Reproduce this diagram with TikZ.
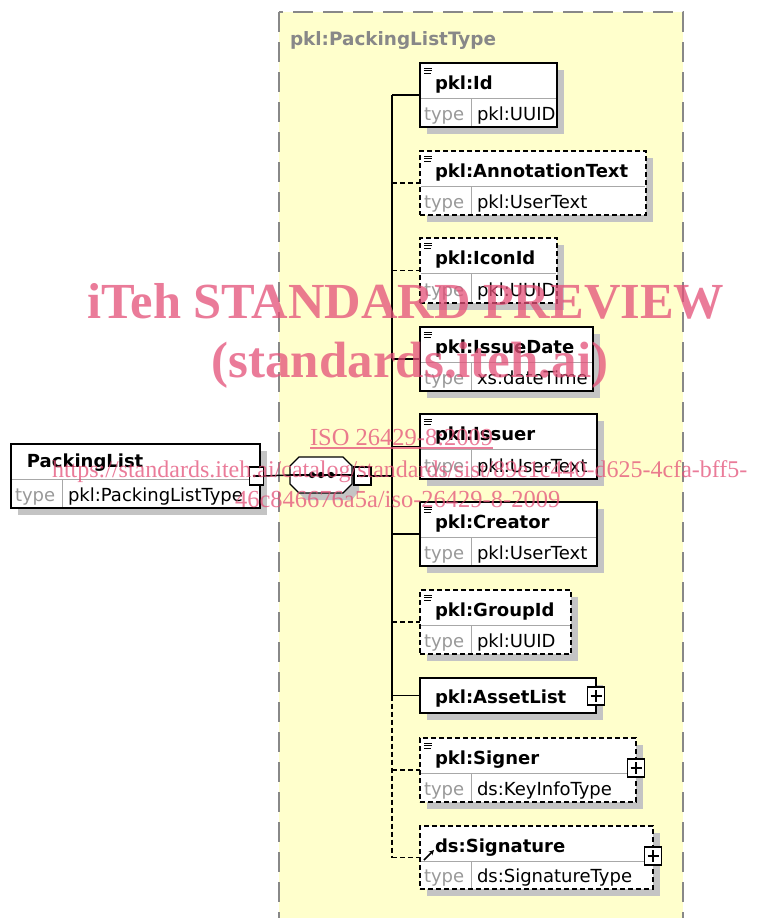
\documentclass[tikz,border=0pt]{standalone}
\usepackage{fontspec}
\setmainfont{DejaVu Sans}
\newfontfamily\wmfont{Liberation Serif}
\usetikzlibrary{arrows.meta}

\definecolor{panel}{HTML}{FFFFCC}
\definecolor{shadowgray}{HTML}{C4C4C4}
\definecolor{frame}{HTML}{888888}
\definecolor{rule}{HTML}{A8A8A8}
\definecolor{typegray}{HTML}{999999}
\definecolor{wm}{RGB}{228,80,120}

\tikzset{
  every node/.style={inner sep=0pt, outer sep=0pt},
  boxsolid/.style={rectangle, draw=black, fill=white, line width=1.5pt},
  boxdash/.style={boxsolid, dash pattern=on 5pt off 3pt},
  link/.style={line width=1.5pt},
  linkdash/.style={link, dash pattern=on 5pt off 3pt},
  namefont/.style={font=\fontsize{18}{21}\selectfont\bfseries, anchor=base west},
  valfont/.style={font=\fontsize{18}{21}\selectfont, anchor=base west},
  typefont/.style={valfont, text=typegray},
  smallsq/.style={rectangle, draw=black, fill=white, line width=1.3pt, minimum width=17pt, minimum height=18pt},
  wmtext/.style={text=wm, opacity=0.75},
}

% three short strokes in the top left corner of an element box
\newcommand\docmark[2]{%
  \draw[line width=0.9pt] ({#1+4},{#2+5}) -- ({#1+12},{#2+5});
  \draw[line width=0.9pt] ({#1+4},{#2+7.5}) -- ({#1+12},{#2+7.5});
  \draw[line width=0.9pt] ({#1+4},{#2+10}) -- ({#1+11},{#2+10});
}

% element box: style, name, x1, y1, x2, y2, title, type
\newcommand\xsdelement[8]{%
  \fill[shadowgray] ({#3+7},{#4+7}) rectangle ({#5+7},{#6+7});
  \node[#1, anchor=north west, minimum width={#5-#3}, minimum height={#6-#4}] (#2) at (#3,#4) {};
  \draw[rule, line width=1pt] ({#3+1},{#4+35}) -- ({#5-1},{#4+35});
  \draw[rule, line width=1pt] ({#3+51},{#4+35}) -- ({#3+51},{#6-1});
  \node[namefont] (#2-name) at ({#3+15},{#4+26}) {#7};
  \node[typefont] (#2-type) at ({#3+4},{#6-7}) {type};
  \node[valfont] (#2-val) at ({#3+57},{#6-7}) {#8};
}

% square with a plus sign
\newcommand\plusbox[3]{%
  \node[smallsq] (#1) at (#2,#3) {};
  \draw[line width=1.3pt] ([xshift=3pt]#1.west) -- ([xshift=-3pt]#1.east);
  \draw[line width=1.3pt] ([yshift=-3pt]#1.north) -- ([yshift=3pt]#1.south);
}

\begin{document}
\begin{tikzpicture}[x=1pt, y=-1pt]
\clip (0,0) rectangle (757,918);
\fill[white] (0,0) rectangle (757,918);

% complex type container
\filldraw[fill=panel, draw=frame, line width=1.5pt, dash pattern=on 20pt off 10pt]
  (279,12) rectangle (683,960);
\node[anchor=base west, text=frame, font=\fontsize{18.4}{21}\selectfont\bfseries] (ctype) at (290,45) {pkl:PackingListType};

% root element
\fill[shadowgray] (18,451) rectangle (267,515);
\node[boxsolid, anchor=north west, minimum width=249, minimum height=64] (root) at (11,444) {};
\draw[rule, line width=1pt] (12,479) -- (258,479);
\draw[rule, line width=1pt] (62,479) -- (62,507);
\node[namefont] (root-name) at (27,467) {PackingList};
\node[typefont] (root-type) at (15,501) {type};
\node[valfont] (root-val) at (68,501) {pkl:PackingListType};

% sequence compositor
\node[rectangle, minimum width=62pt, minimum height=36pt] (seq) at (321,475) {};
\fill[shadowgray] (306,464) -- (352,464) -- (359,473) -- (359,491) -- (352,500)
  -- (306,500) -- (297,491) -- (297,473) -- cycle;
\filldraw[fill=white, draw=black, line width=1.3pt]
  (299,457) -- (343,457) -- (352,466) -- (352,484) -- (343,493)
  -- (299,493) -- (290,484) -- (290,466) -- cycle;
\draw[link] (seq.west) -- (seq.east);
\foreach \dx in {312,321,331} \fill (\dx,475) circle (3.2pt);

\node[smallsq, minimum width=14pt] (m1) at (256.5,476) {};
\draw[line width=1.3pt] ([xshift=3pt]m1.west) -- ([xshift=-3pt]m1.east);
\node[smallsq] (m2) at (362.5,476) {};
\draw[line width=1.3pt] ([xshift=3pt]m2.west) -- ([xshift=-3pt]m2.east);

\draw[link] (m1.east) -- (seq.west);
\draw[link] (seq.east) -- (m2.west);
\coordinate (busx) at (392,0);

% child elements
\xsdelement{boxsolid}{id}{420}{63}{557}{127}{pkl:Id}{pkl:UUID}
\docmark{420}{63}
\xsdelement{boxdash}{ann}{420}{151}{646}{215}{pkl:AnnotationText}{pkl:UserText}
\docmark{420}{151}
\xsdelement{boxdash}{icon}{420}{238}{557}{303}{pkl:IconId}{pkl:UUID}
\docmark{420}{238}
\xsdelement{boxsolid}{date}{420}{327}{593}{391}{pkl:IssueDate}{xs:dateTime}
\docmark{420}{327}
\xsdelement{boxsolid}{issuer}{420}{414}{597}{479}{pkl:Issuer}{pkl:UserText}
\docmark{420}{414}
\xsdelement{boxsolid}{creator}{420}{502}{597}{566}{pkl:Creator}{pkl:UserText}
\docmark{420}{502}
\xsdelement{boxdash}{group}{420}{590}{571}{654}{pkl:GroupId}{pkl:UUID}
\docmark{420}{590}

\fill[shadowgray] (427,685) rectangle (603,720);
\node[boxsolid, anchor=north west, minimum width=176, minimum height=35] (asset) at (420,678) {};
\node[namefont] (asset-name) at (435,703) {pkl:AssetList};
\plusbox{asset-plus}{596}{696}

\xsdelement{boxdash}{signer}{420}{738}{636}{802}{pkl:Signer}{ds:KeyInfoType}
\docmark{420}{738}
\plusbox{signer-plus}{636}{768}

\xsdelement{boxdash}{sig}{420}{826}{653}{889}{ds:Signature}{ds:SignatureType}
\draw[line width=1.6pt, -{Stealth[length=5pt,width=5pt]}] (424,860) -- (434,850);
\plusbox{sig-plus}{653}{856}

% connectors
\draw[link] (m2.east) -- (m2.east -| busx);
\draw[link] (busx |- id.west) -- (busx |- asset.west);
\draw[linkdash] (busx |- asset.west) -- (busx |- sig.west);
\draw[link] (busx |- id.west) -- (id.west);
\draw[linkdash] (busx |- ann.west) -- (ann.west);
\draw[linkdash] (busx |- icon.west) -- (icon.west);
\draw[link] (busx |- date.west) -- (date.west);
\draw[link] (busx |- issuer.west) -- (issuer.west);
\draw[link] (busx |- creator.west) -- (creator.west);
\draw[linkdash] (busx |- group.west) -- (group.west);
\draw[link] (busx |- asset.west) -- (asset.west);
\draw[linkdash] (busx |- signer.west) -- (signer.west);
\draw[linkdash] (busx |- sig.west) -- (sig.west);

% overprinted notice
\node[wmtext, anchor=base, font=\wmfont\bfseries\fontsize{50.5}{56}\selectfont] (wm-a) at (406,318) {iTeh STANDARD PREVIEW};
\node[wmtext, anchor=base, font=\wmfont\bfseries\fontsize{51}{56}\selectfont] (wm-b) at (410,377) {(standards.iteh.ai)};
\node[wmtext, anchor=base west, font=\wmfont\fontsize{24.5}{28}\selectfont] (wm-c) at (310,445) {ISO 26429-8:2009};
\draw[wm, opacity=0.75, line width=1.2pt] ([yshift=-3pt]wm-c.base west) -- ([yshift=-3pt]wm-c.base east);
\node[wmtext, anchor=base west, font=\wmfont\fontsize{24}{28}\selectfont] (wm-d) at (52,477) {https://standards.iteh.ai/catalog/standards/sist/89e1c440-d625-4cfa-bff5-};
\node[wmtext, anchor=base west, font=\wmfont\fontsize{24.5}{28}\selectfont] (wm-e) at (235,507) {46c846676a5a/iso-26429-8-2009};
\end{tikzpicture}
\end{document}
